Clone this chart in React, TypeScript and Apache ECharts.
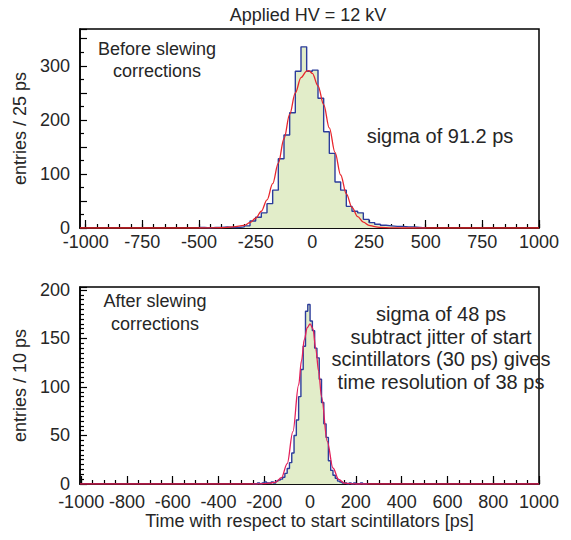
import React, { useEffect, useRef } from "react";
import * as echarts from "echarts";

const titleText = "Applied HV = 12 kV";
const xAxisTitle = "Time with respect to start scintillators [ps]";
const topYTitle = "entries / 25 ps";
const botYTitle = "entries / 10 ps";
const topNote = "Before slewing\ncorrections";
const topSigma = "sigma of 91.2 ps";
const botNote = "After slewing\ncorrections";
const botSigma = "sigma of 48 ps\nsubtract jitter of start\nscintillators (30 ps) gives\ntime resolution of 38 ps";

// Top panel histogram: 25 ps bins, first bin left edge at -500 ps
const topBinStart = -500;
const topBinWidth = 25;
const topCounts = [
  1, 0, 1, 1, 2, 1, 1, 2, 4, 13,
  20, 28, 45, 70, 128, 172, 213, 290, 335, 290,
  292, 240, 178, 138, 85, 70, 40, 31, 28, 16,
  10, 7, 5, 4, 3, 3, 2, 2, 1, 0,
];
// Top panel fit curve
const topFitX = [-1025, -500, -400, -350, -300, -275, -250, -225, -200, -175, -150, -125, -100, -75, -50, -25, -15, 0, 25, 50, 75, 100, 125, 150, 175, 200, 225, 250, 275, 300, 350, 400, 1000];
const topFitY = [0, 0, 0.5, 2, 5, 10, 18, 31, 52, 82, 120, 165, 210, 250, 278, 290, 291, 286, 263, 228, 185, 140, 98, 63, 38, 21, 11, 5, 2.5, 1, 0.3, 0, 0];

// Bottom panel histogram: 10 ps bins, first bin left edge at -250 ps
const botBinStart = -250;
const botBinWidth = 10;
const botCounts = [
  0, 0, 1, 0, 1, 2, 1, 1, 2, 1,
  3, 4, 5, 7, 11, 16, 22, 32, 50, 66,
  90, 118, 142, 178, 185, 168, 158, 140, 130, 108,
  84, 62, 48, 24, 14, 9, 6, 3, 2, 1,
  1, 0, 1, 0, 1, 0, 0, 1, 0, 0,
];
const botFitX = [-1005, -250, -200, -175, -150, -125, -100, -75, -50, -37.5, -25, -12.5, 0, 12.5, 25, 37.5, 50, 75, 100, 125, 150, 175, 200, 250, 1000];
const botFitY = [0, 0, 0.3, 1, 2, 6.5, 21, 54, 102, 127, 149, 161, 165, 160, 139, 116, 90, 44, 16.5, 4.7, 1, 0.3, 0, 0, 0];

// Axis tick values
const topXLabels = [-1000, -750, -500, -250, 0, 250, 500, 750, 1000];
const botXLabels = [-1000, -800, -600, -400, -200, 0, 200, 400, 600, 800, 1000];
const xMinorStep = 50;

const FONT = '"Liberation Sans", Arial, Helvetica, sans-serif';
const TEXT = "#262626";

function histData(start: number, width: number, counts: number[]) {
  const d: number[][] = counts.map((c, i) => [start + i * width, c]);
  d.push([start + counts.length * width, 0]);
  return d;
}

function minorValues(step: number) {
  const v: number[] = [];
  for (let x = -1000; x <= 1000; x += step) v.push(x);
  return v;
}

export default function App() {
  const ref = useRef<HTMLDivElement>(null);

  useEffect(() => {
    if (!ref.current) return;
    const chart = echarts.init(ref.current, undefined, { renderer: "svg" });
    const tickLine = { color: "#000", width: 1.2 };
    const axisLine = { show: true, onZero: false, lineStyle: { color: "#000", width: 1.5 } };
    const labelStyle = { fontSize: 18, color: TEXT, fontFamily: FONT };
    const minor = minorValues(xMinorStep);

    const mkMajorX = (grid: number, min: number, labels: number[], margin: number, extra: any = {}) => ({
      gridIndex: grid,
      type: "value",
      min,
      max: 1000,
      position: "bottom",
      axisLine,
      axisTick: { show: true, inside: true, length: 8, customValues: labels, lineStyle: tickLine },
      axisLabel: { ...labelStyle, margin, customValues: labels, formatter: (v: number) => String(v) },
      splitLine: { show: false },
      ...extra,
    });
    const mkMinorX = (grid: number, min: number) => ({
      gridIndex: grid,
      type: "value",
      min,
      max: 1000,
      position: "bottom",
      axisLine: { show: false, onZero: false },
      axisTick: { show: true, inside: true, length: 4, customValues: minor, lineStyle: tickLine },
      axisLabel: { show: false },
      splitLine: { show: false },
    });

    const option: any = {
      animation: false,
      backgroundColor: "#fff",
      grid: [
        { left: 80, top: 29, width: 459, height: 199, show: true, borderColor: "#000", borderWidth: 1.5, backgroundColor: "transparent" },
        { left: 80, top: 287, width: 459, height: 197, show: true, borderColor: "#000", borderWidth: 1.5, backgroundColor: "transparent" },
      ],
      xAxis: [
        mkMajorX(0, -1025, topXLabels, 5),
        mkMinorX(0, -1025),
        mkMajorX(1, -1005, botXLabels, 9, {
          name: xAxisTitle,
          nameLocation: "middle",
          nameGap: 28,
          nameTextStyle: { fontSize: 18, color: TEXT, fontFamily: FONT },
        }),
        mkMinorX(1, -1005),
      ],
      yAxis: [
        {
          gridIndex: 0,
          type: "value",
          min: 0,
          max: 368,
          interval: 50,
          axisLine,
          axisTick: { show: true, inside: true, length: 7, lineStyle: tickLine },
          minorTick: { show: true, splitNumber: 2, length: 4, lineStyle: tickLine },
          axisLabel: { ...labelStyle, margin: 10, formatter: (v: number) => (v % 100 === 0 ? String(v) : "") },
          splitLine: { show: false },
          minorSplitLine: { show: false },
          name: topYTitle,
          nameLocation: "middle",
          nameGap: 50,
          nameTextStyle: { fontSize: 18, color: TEXT, fontFamily: FONT },
        },
        {
          gridIndex: 1,
          type: "value",
          min: 0,
          max: 203,
          interval: 50,
          axisLine,
          axisTick: { show: true, inside: true, length: 7, lineStyle: tickLine },
          minorTick: { show: true, splitNumber: 10, length: 4, lineStyle: tickLine },
          axisLabel: { ...labelStyle, margin: 10, formatter: (v: number) => (v % 50 === 0 ? String(v) : "") },
          splitLine: { show: false },
          minorSplitLine: { show: false },
          name: botYTitle,
          nameLocation: "middle",
          nameGap: 50,
          nameTextStyle: { fontSize: 18, color: TEXT, fontFamily: FONT },
        },
      ],
      series: [
        {
          type: "line",
          xAxisIndex: 0,
          yAxisIndex: 0,
          data: histData(topBinStart, topBinWidth, topCounts),
          step: "end",
          symbol: "none",
          lineStyle: { color: "#2b3c9b", width: 1.4 },
          areaStyle: { color: "#e2edc9", opacity: 1 },
          z: 2,
        },
        {
          type: "line",
          xAxisIndex: 0,
          yAxisIndex: 0,
          data: topFitX.map((x, i) => [x, topFitY[i]]),
          smooth: 0.35,
          smoothMonotone: "x",
          symbol: "none",
          lineStyle: { color: "#e8262c", width: 1.3 },
          z: 3,
        },
        {
          type: "line",
          xAxisIndex: 2,
          yAxisIndex: 1,
          data: histData(botBinStart, botBinWidth, botCounts),
          step: "end",
          symbol: "none",
          lineStyle: { color: "#2b3c9b", width: 1.4 },
          areaStyle: { color: "#e2edc9", opacity: 1 },
          z: 2,
        },
        {
          type: "line",
          xAxisIndex: 2,
          yAxisIndex: 1,
          data: botFitX.map((x, i) => [x, botFitY[i]]),
          smooth: 0.35,
          smoothMonotone: "x",
          symbol: "none",
          lineStyle: { color: "#e3205a", width: 1.3 },
          z: 3,
        },
      ],
      graphic: [
        { type: "text", x: 308, y: 15, z: 10, style: { text: titleText, font: `18px ${FONT}`, fill: TEXT, align: "center", verticalAlign: "middle" } },
        { type: "text", x: 157, y: 38, z: 10, style: { text: topNote, font: `18px ${FONT}`, fill: TEXT, align: "center", verticalAlign: "top", lineHeight: 22 } },
        { type: "text", x: 440, y: 136, z: 10, style: { text: topSigma, font: `20px ${FONT}`, fill: TEXT, align: "center", verticalAlign: "middle" } },
        { type: "text", x: 155, y: 289.5, z: 10, style: { text: botNote, font: `18px ${FONT}`, fill: TEXT, align: "center", verticalAlign: "top", lineHeight: 23 } },
        { type: "text", x: 441, y: 302.75, z: 10, style: { text: botSigma, font: `20px ${FONT}`, fill: TEXT, align: "center", verticalAlign: "top", lineHeight: 22.5 } },
      ],
    };
    chart.setOption(option);
    return () => chart.dispose();
  }, []);

  return <div ref={ref} style={{ position: "absolute", left: 0, top: 0, width: 571, height: 540 }} />;
}
